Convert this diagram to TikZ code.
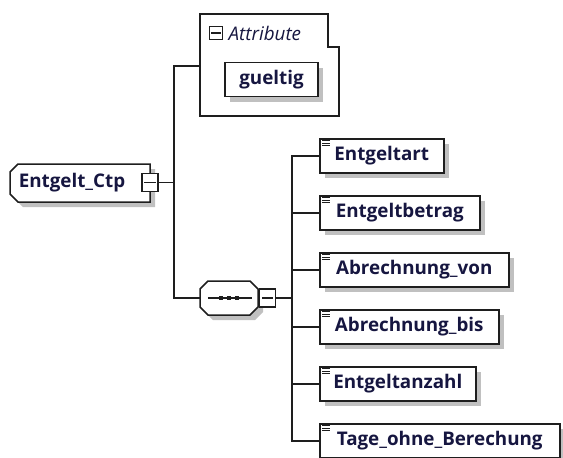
\documentclass[tikz,border=0pt]{standalone}
\usepackage{fontspec}
\setmainfont{Open Sans}
\usetikzlibrary{shadows}
\definecolor{xsdtext}{RGB}{22,22,64}
\definecolor{xsdshadow}{RGB}{192,192,192}
\definecolor{xsdline}{RGB}{30,30,30}
\tikzset{
  xsdfont/.style={font=\bfseries\fontsize{18.8}{22}\selectfont, text=xsdtext},
  xsdshade/.style={drop shadow={shadow xshift=5pt, shadow yshift=-5pt, fill=xsdshadow, opacity=1}},
  elem/.style={draw=xsdline, fill=white, line width=1.5pt, minimum height=34pt,
    inner sep=0pt, xsdfont, xsdshade},
  outline/.style={draw=xsdline, fill=white, line width=1.5pt},
  minusbox/.style={draw=xsdline, fill=white, line width=1.3pt, minimum width=16pt,
    minimum height=18pt, inner sep=0pt},
  conn/.style={draw=xsdline, line width=1.5pt}
}
\begin{document}
\begin{tikzpicture}[x=1pt, y=-1pt]
  \useasboundingbox (0,0) rectangle (563,458);

  % complex type with its attribute group
  \fill[xsdshadow, shift={(5,5)}] (18,164) -- (150,164) -- (150,202) -- (18,202) -- (10,194) -- (10,172) -- cycle;
  \path[outline] (18,164) -- (150,164) -- (150,202) -- (18,202) -- (10,194) -- (10,172) -- cycle;
  \node[minimum width=140pt, minimum height=38pt, inner sep=0pt] (ctp) at (80,183) {};
  \node[xsdfont, inner sep=0pt] (ctplbl) at (72,183) {Entgelt\_Ctp};
  \node[minusbox] (ctpm) at (150,182.5) {};
  \draw[conn] ([xshift=3pt]ctpm.west) -- ([xshift=-3pt]ctpm.east);

  \path[outline] (200,14) -- (328,14) -- (328,47) -- (339,47) -- (339,116) -- (200,116) -- cycle;
  \coordinate (attr) at (200,66);
  \node[minusbox, minimum width=13pt, minimum height=13pt, line width=1.1pt] (attrm) at (216,33) {};
  \draw[xsdline, line width=1.1pt] ([xshift=2.5pt]attrm.west) -- ([xshift=-2.5pt]attrm.east);
  \node[anchor=west, inner sep=0pt, text=xsdtext, font=\itshape\fontsize{18.8}{22}\selectfont]
    (attrlbl) at (228.5,33) {Attribute};
  \node[elem, minimum width=93pt] (gueltig) at (271.5,79.5) {gueltig};

  \coordinate (bus1) at (174,182.5);
  \draw[conn] (ctpm.east) -- (bus1);
  \draw[conn] (bus1) |- (attr);

  % sequence
  \fill[xsdshadow, shift={(5,5)}] (208,281) -- (250,281) -- (258,289) -- (258,307) -- (250,315) -- (208,315) -- (200,307) -- (200,289) -- cycle;
  \path[outline] (208,281) -- (250,281) -- (258,289) -- (258,307) -- (250,315) -- (208,315) -- (200,307) -- (200,289) -- cycle;
  \node[minimum width=58pt, minimum height=34pt, inner sep=0pt] (seq) at (229,298) {};
  \draw[conn, line width=1.3pt] ([xshift=8pt]seq.west) -- ([xshift=-6pt]seq.east);
  \foreach \d in {-8,0,8}
    \fill[xsdline] ([xshift=\d pt]seq.center) +(-2.3,-2.3) rectangle +(2.3,2.3);
  \node[minusbox, anchor=west] (seqm) at (259,298) {};
  \draw[conn] ([xshift=3pt]seqm.west) -- ([xshift=-3pt]seqm.east);
  \draw[conn] (bus1) |- (seq.west);

  \coordinate (bus2) at (292,298);
  \draw[conn] (seqm.east) -- (bus2);

  % elements of the sequence
  \foreach \name/\w [count=\i from 0] in {Entgeltart/124, Entgeltbetrag/160,
      Abrechnung\_von/189, Abrechnung\_bis/179, Entgeltanzahl/156,
      Tage\_ohne\_Berechung/240}
  {
    \node[elem, anchor=west, minimum width=\w pt] (c\i) at (319,156+57*\i) {\name};
    \foreach \k in {0,1,2}
      \draw[xsdline, line width=0.8pt] ([xshift=3pt, yshift=-(2.5+2.3*\k)*1pt]c\i.north west) -- ++(8,0);
    \draw[conn] (bus2) |- (c\i.west);
  }
\end{tikzpicture}
\end{document}
